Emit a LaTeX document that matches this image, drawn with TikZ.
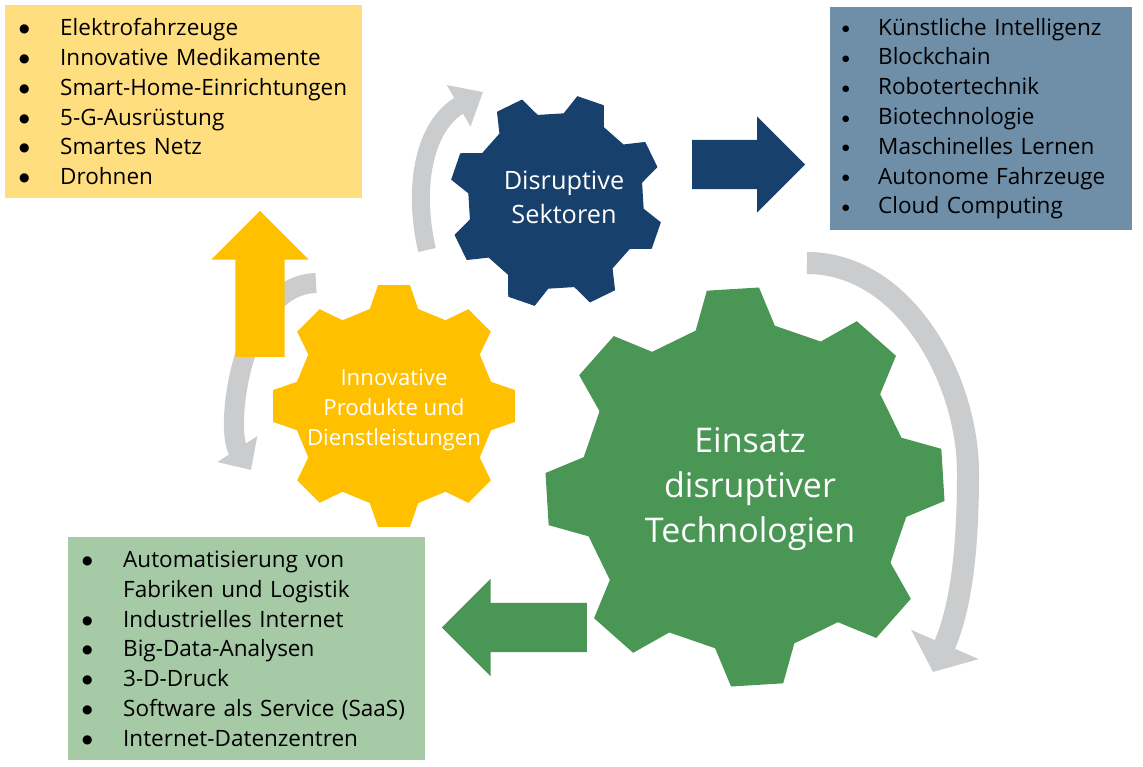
\documentclass[tikz,border=0pt]{standalone}
\usepackage{fontspec}
\setmainfont{Open Sans}
\newfontfamily\punktfont{DejaVu Sans}
\usetikzlibrary{calc}
\usetikzlibrary{shapes.arrows}
\usetikzlibrary{arrows.meta}

\definecolor{sektorblau}{HTML}{17416C}
\definecolor{produktgelb}{HTML}{FFC000}
\definecolor{technogruen}{HTML}{4A9755}
\definecolor{kreisgrau}{HTML}{CBCCCE}
\definecolor{gelbbox}{HTML}{FFDE80}
\definecolor{blaubox}{HTML}{6F8EA8}
\definecolor{gruenbox}{HTML}{A6C9A6}

% zahnrad: mitte, aussenradius, innenradius, drehung, farbe
\newcommand{\zahnrad}[5]{%
  \fill[#5] ($(#1)+(#4-14:#3)$) \foreach \k in {0,...,7} {
    -- ($(#1)+(#4+45*\k-14:#3)$) -- ($(#1)+(#4+45*\k-7.5:#2)$)
    -- ($(#1)+(#4+45*\k+7.5:#2)$) -- ($(#1)+(#4+45*\k+14:#3)$)} -- cycle;}
\newcommand{\bul}[1][41pt]{\makebox[#1][l]{\raisebox{3pt}{\punktfont\fontsize{12}{12}\selectfont ●}}}
\newcommand{\kleinbul}[1][36pt]{\makebox[#1][l]{\raisebox{3.5pt}{\punktfont\fontsize{8.5}{8.5}\selectfont ●}}}

\begin{document}
\begin{tikzpicture}[x=1pt, y=-1pt,
  liste/.style={rectangle, anchor=north west, align=left, inner xsep=14pt, inner ysep=0pt, font=\fontsize{22.5}{29.8}\selectfont},
  radtext/.style={align=center, text=white, inner sep=0pt},
  blockpfeil/.style={single arrow, anchor=tail, inner xsep=0pt, inner ysep=24.5pt, minimum width=0pt, single arrow head extend=24pt},
  kreispfeil/.style={kreisgrau, line width=18pt, -{Triangle[length=28pt, width=46pt]}}]
	\fill[white] (0,0) rectangle (1143,766);
	\useasboundingbox (0,0) rectangle (1143,766);

	% listen
	\node[liste, fill=gelbbox, text width=329pt, minimum height=193pt] (produkte) at (5,5) {%
		\bul Elektrofahrzeuge\\
		\bul Innovative Medikamente\\
		\bul Smart-Home-Einrichtungen\\
		\bul 5-G-Ausrüstung\\
		\bul Smartes Netz\\
		\bul Drohnen};
	\node[liste, fill=blaubox, inner xsep=12pt, text width=278pt, minimum height=223pt] (sektorliste) at (830,7) {%
		\kleinbul Künstliche Intelligenz\\
		\kleinbul Blockchain\\
		\kleinbul Robotertechnik\\
		\kleinbul Biotechnologie\\
		\kleinbul Maschinelles Lernen\\
		\kleinbul Autonome Fahrzeuge\\
		\kleinbul Cloud Computing};
	\node[liste, fill=gruenbox, text width=329pt, minimum height=223pt] (technologien) at (68,537) {%
		\bul Automatisierung von\\
		\hspace*{41pt}Fabriken und Logistik\\
		\bul Industrielles Internet\\
		\bul Big-Data-Analysen\\
		\bul 3-D-Druck\\
		\bul Software als Service (SaaS)\\
		\bul Internet-Datenzentren};

	% kreispfeile
	\coordinate (bogenAanf) at (427,250);
	\coordinate (bogenAende) at (483,92);
	\coordinate (bogenBanf) at (316,283);
	\coordinate (bogenBende) at (251,470);
	\coordinate (bogenCanf) at (807,263);
	\coordinate (bogenCmitte) at (968,473);
	\coordinate (bogenCende) at (933,672);
	\draw[kreispfeil] (bogenAanf) .. controls (412,185) and (425,125) .. (bogenAende);
	\draw[kreispfeil, line width=20pt, -{Triangle[length=25pt, width=46pt]}] (bogenBanf) .. controls (240,285) and (225,430) .. (bogenBende);
	\draw[kreispfeil, line width=22pt, -{Triangle[length=30pt, width=72pt]}] (bogenCanf) .. controls (905,263) and (968,380) .. (bogenCmitte)
		.. controls (968,545) and (962,605) .. (bogenCende);

	% zahnraeder
	\coordinate (sekmitte) at (556,201);
	\coordinate (prodmitte) at (394,406);
	\coordinate (techmitte) at (745,487);
	\zahnrad{sekmitte}{107}{88}{19}{sektorblau}
	\zahnrad{prodmitte}{122}{100}{0}{produktgelb}
	\zahnrad{techmitte}{200}{164}{41.5}{technogruen}
	\node[radtext, font=\fontsize{25.3}{34}\selectfont] (sektoren) at (564,197) {Disruptive\\Sektoren};
	\node[radtext, font=\fontsize{22.2}{30}\selectfont] (innovation) at (394,410) {Innovative\\Produkte und\\Dienstleistungen};
	\node[radtext, font=\fontsize{34}{45}\selectfont] (einsatz) at (750,489) {Einsatz\\disruptiver\\Technologien};

	% blockpfeile
	\node[blockpfeil, fill=sektorblau, minimum height=113pt, single arrow head extend=23.5pt] (pfeilsek) at (692,164.5) {};
	\node[blockpfeil, fill=produktgelb, rotate=90, minimum height=146pt] (pfeilprod) at (260,357) {};
	\node[blockpfeil, fill=technogruen, rotate=180, minimum height=145pt] (pfeiltech) at (587,627.5) {};
\end{tikzpicture}
\end{document}
